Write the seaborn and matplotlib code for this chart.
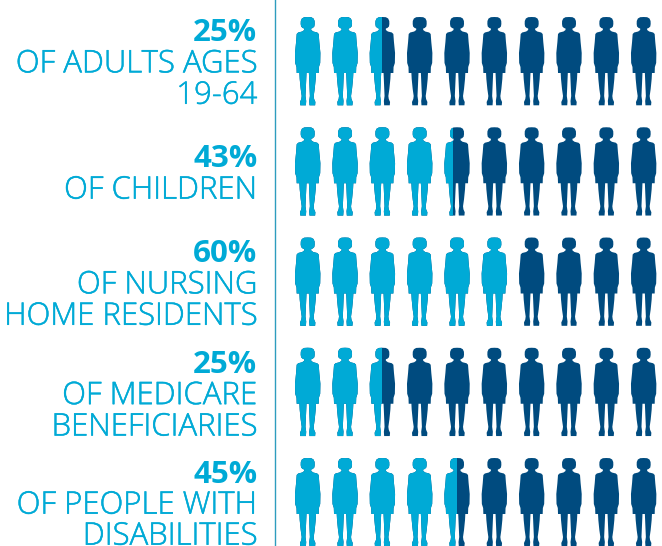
import numpy as np
import matplotlib
matplotlib.use("Agg")
import matplotlib.pyplot as plt
from matplotlib import patheffects as pe
from matplotlib.patches import Polygon, Rectangle
import seaborn as sns

percents = [25, 43, 60, 25, 45]
descriptions = [
    ["OF ADULTS AGES", "19-64"],
    ["OF CHILDREN"],
    ["OF NURSING", "HOME RESIDENTS"],
    ["OF MEDICARE", "BENEFICIARIES"],
    ["OF PEOPLE WITH", "DISABILITIES"],
]
people_per_row = 10

LIGHT = "#00AAD6"
DARK = "#004B7F"
RULE = "#2E9DBE"

W, H = 662, 546
LEFT_RULE = 275
FIRST_X, STEP_X = 307.7, 37.33
FIRST_Y, STEP_Y = 17.0, 110.25

sns.set_theme(style="white")
plt.rcParams["font.family"] = ["Open Sans", "DejaVu Sans"]

fig = plt.figure(figsize=(W / 100, H / 100), dpi=100, facecolor="white")
ax = fig.add_axes([LEFT_RULE / W, 0, (W - LEFT_RULE) / W, 1])
ax.set_xlim((LEFT_RULE - FIRST_X) / STEP_X, (W - FIRST_X) / STEP_X)
ax.set_ylim((H - FIRST_Y) / STEP_Y, -FIRST_Y / STEP_Y)
ax.set_xticks([])
ax.set_yticks([])
ax.patch.set_alpha(0)
sns.despine(ax=ax, top=True, right=True, bottom=True, left=False)
ax.spines["left"].set_color(RULE)
ax.spines["left"].set_linewidth(1.0)

# Right half of the figure glyph, in pixels from the crown on the centre line.
half = np.array([
    (0, 0), (3.5, 0.2), (5.8, 1.5), (6.9, 4), (7, 7), (6.6, 9.5), (5, 11),
    (3.5, 11.5), (3.5, 13), (5.5, 14.5), (9.5, 15.5), (11, 17), (11.6, 25),
    (12.7, 36), (12.5, 46), (11.2, 50), (11, 56), (8.3, 56), (8, 62), (7, 72),
    (6, 79), (6.4, 82), (7.7, 85), (7.4, 88.3), (1.8, 88.3), (1.5, 84),
    (2.2, 79), (1.8, 70), (1.2, 56), (0, 56),
])
outline = np.vstack([half, (half * [-1, 1])[::-1][1:-1]])
glyph = outline / [STEP_X, STEP_Y]
split_span = 18.0 / STEP_X  # travel of the colour break across a partly filled figure

for row, pct in enumerate(percents):
    for i in range(people_per_row):
        pts = glyph + [i, row]
        ax.add_patch(Polygon(pts, closed=True, facecolor=DARK, edgecolor="none"))
        filled = np.clip(pct / people_per_row - i, 0, 1)
        if filled > 0:
            light = Polygon(pts, closed=True, facecolor=LIGHT, edgecolor="none")
            ax.add_patch(light)
            if filled < 1:
                clip = Rectangle((i - 0.5, row - 0.01),
                                 0.5 + (filled - 0.5) * split_span, 0.9,
                                 transform=ax.transData)
                light.set_clip_path(clip)

# Text sits in a column that ends just short of the rule.
first_baseline = [24, 40, 24.5, 25, 24.7]
line_step = [31.4, 31.4, 31.4, 31.4, 31.0]
thicken = [pe.withStroke(linewidth=0.35, foreground=LIGHT)]
for row, (pct, lines) in enumerate(zip(percents, descriptions)):
    y = FIRST_Y + STEP_Y * row + first_baseline[row]
    fig.text(257.3 / W, 1 - y / H, f"{pct}%", ha="right", va="baseline",
             color=LIGHT, fontsize=22.6, fontweight="bold")
    for k, line in enumerate(lines, start=1):
        fig.text(257.3 / W, 1 - (y + line_step[row] * k) / H, line, ha="right",
                 va="baseline", color=LIGHT, fontsize=22.4, fontweight="light",
                 path_effects=thicken)

fig.savefig("out.png", dpi=100, facecolor="white")
